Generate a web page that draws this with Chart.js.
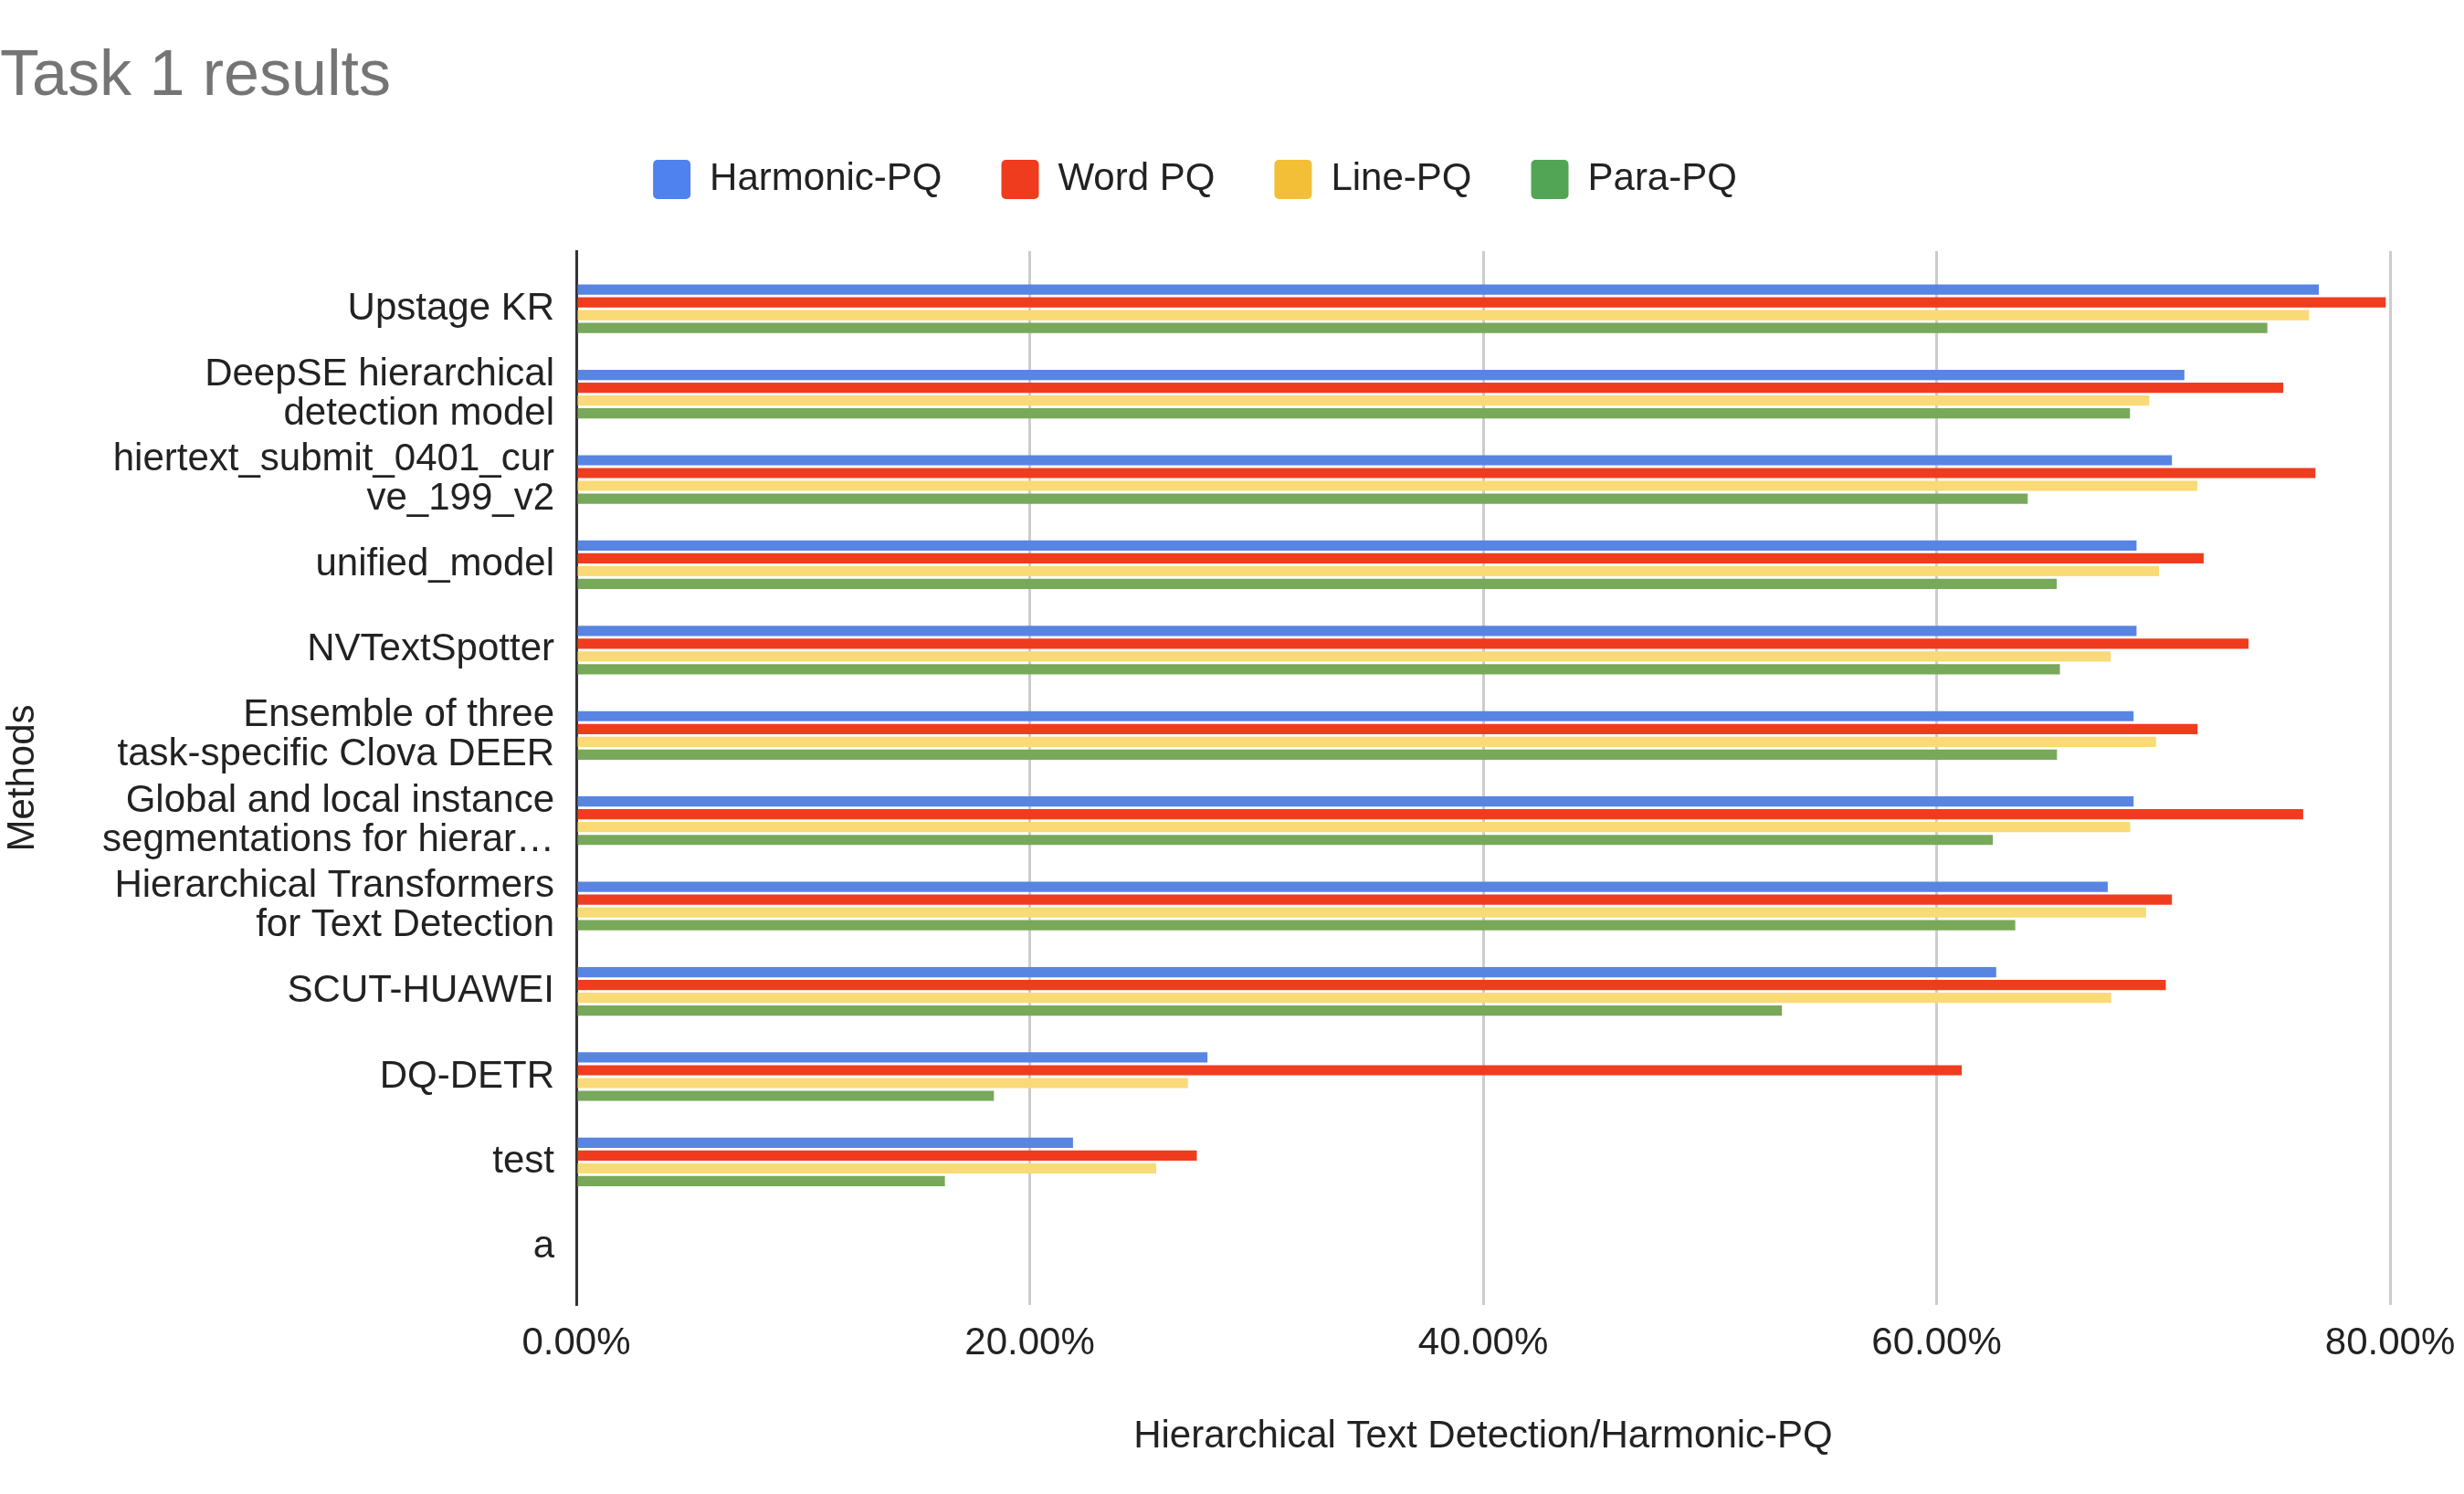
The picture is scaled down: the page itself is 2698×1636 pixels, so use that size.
<!DOCTYPE html>
<html>
<head>
<meta charset="utf-8">
<title>Task 1 results</title>
<script src="https://cdn.jsdelivr.net/npm/chart.js@4.4.1/dist/chart.umd.min.js"></script>
<style>
  html, body { margin: 0; padding: 0; background: #fff; }
  canvas { display: block; }
</style>
</head>
<body>
<canvas id="myChart" width="2698" height="1636" style="width:2698px;height:1636px"></canvas>
<script>
// methods, top to bottom (already wrapped the way the sheet shows them)
var methods = [
  ["Upstage KR"],
  ["DeepSE hierarchical", "detection model"],
  ["hiertext_submit_0401_cur", "ve_199_v2"],
  ["unified_model"],
  ["NVTextSpotter"],
  ["Ensemble of three", "task-specific Clova DEER"],
  ["Global and local instance", "segmentations for hierar\u2026"],
  ["Hierarchical Transformers", "for Text Detection"],
  ["SCUT-HUAWEI"],
  ["DQ-DETR"],
  ["test"],
  ["a"]
];

// scores in %
var harmonicPQ = [76.86, 70.93, 70.38, 68.82, 68.82, 68.69, 68.69, 67.55, 62.63, 27.84, 21.91, null];
var wordPQ     = [79.81, 75.29, 76.71, 71.78, 73.76, 71.51, 76.17, 70.38, 70.11, 61.11, 27.37, null];
var linePQ     = [76.43, 69.38, 71.50, 69.81, 67.68, 69.68, 68.54, 69.24, 67.70, 26.98, 25.58, null];
var paraPQ     = [74.59, 68.53, 64.02, 65.30, 65.44, 65.31, 62.48, 63.47, 53.18, 18.42, 16.26, null];

var xTicks = [0, 20, 40, 60, 80];

var seriesNames  = ["Harmonic-PQ", "Word PQ", "Line-PQ", "Para-PQ"];
var barColors    = ["#5884e2", "#f03c1e", "#fada76", "#78a859"];
var legendColors = ["#4f81ef", "#ef3b1e", "#f3bf36", "#53a556"];

var fontFamily = "'Liberation Sans', Arial, sans-serif";
var yPad = 0.676; // empty space above first / below last method, in rows

function points(values) {
  return values.map(function (v, i) { return { x: v, y: i }; });
}

function createChart() {
  var ctx = document.getElementById("myChart");
  var allSeries = [harmonicPQ, wordPQ, linePQ, paraPQ];

  var datasets = allSeries.map(function (vals, i) {
    return {
      label: seriesNames[i],
      data: points(vals),
      backgroundColor: barColors[i],
      borderWidth: 0,
      categoryPercentage: 0.6,
      barPercentage: 0.8
    };
  });

  // extra space between legend and plot
  var legendGap = {
    id: "legendGap",
    beforeInit: function (chart) {
      var fit = chart.legend.fit;
      chart.legend.fit = function () {
        fit.call(this);
        this.height += 47;
      };
    }
  };

  new Chart(ctx, {
    type: "bar",
    data: { datasets: datasets },
    plugins: [legendGap],
    options: {
      indexAxis: "y",
      responsive: false,
      devicePixelRatio: 1,
      animation: false,
      layout: { padding: { left: 0, right: 81, top: 0, bottom: 0 } },
      plugins: {
        tooltip: { enabled: false },
        title: {
          display: true,
          text: "Task 1 results",
          align: "start",
          color: "#757575",
          font: { family: fontFamily, size: 70, weight: "normal", lineHeight: 0.9 },
          padding: { top: 53, bottom: -6 }
        },
        legend: {
          display: true,
          position: "top",
          align: "center",
          labels: {
            color: "#222222",
            font: { family: fontFamily, size: 42 },
            boxWidth: 41,
            boxHeight: 43,
            padding: 65,
            useBorderRadius: true,
            borderRadius: 5,
            generateLabels: function (chart) {
              return seriesNames.map(function (name, i) {
                return {
                  text: name,
                  fillStyle: legendColors[i],
                  strokeStyle: legendColors[i],
                  lineWidth: 0,
                  fontColor: "#222222",
                  datasetIndex: i,
                  borderRadius: 5
                };
              });
            }
          }
        }
      },
      scales: {
        x: {
          type: "linear",
          position: "bottom",
          min: 0,
          max: 80,
          afterBuildTicks: function (scale) {
            scale.ticks = xTicks.map(function (v) { return { value: v }; });
          },
          afterFit: function (scale) { scale.height = 207; },
          ticks: {
            color: "#222222",
            font: { family: fontFamily, size: 42, lineHeight: 1.2 },
            padding: 9,
            callback: function (v) { return v.toFixed(2) + "%"; }
          },
          grid: {
            color: "#cccccc",
            lineWidth: 3,
            drawTicks: true,
            tickLength: 8,
            tickColor: "rgba(0,0,0,0)"
          },
          border: { display: false },
          title: {
            display: true,
            text: "Hierarchical Text Detection/Harmonic-PQ",
            color: "#222222",
            font: { family: fontFamily, size: 42, lineHeight: 1.2 },
            padding: { top: 0, bottom: 37 }
          }
        },
        y: {
          type: "linear",
          reverse: true,
          offset: false,
          bounds: "data",
          afterDataLimits: function (scale) {
            scale.min = -yPad;
            scale.max = methods.length - 1 + yPad;
          },
          afterBuildTicks: function (scale) {
            scale.min = -yPad;
            scale.max = methods.length - 1 + yPad;
            scale.ticks = methods.map(function (m, i) { return { value: i }; });
          },
          afterFit: function (scale) { scale.width = 631; },
          ticks: {
            autoSkip: false,
            color: "#222222",
            font: { family: fontFamily, size: 42, lineHeight: 1.03 },
            padding: 24,
            callback: function (v) { return methods[v]; }
          },
          grid: { display: false, drawTicks: false, offset: false },
          border: { display: true, color: "#333333", width: 3 },
          title: {
            display: true,
            text: "Methods",
            color: "#222222",
            font: { family: fontFamily, size: 42, lineHeight: 1.2 },
            padding: { top: 0, bottom: 0 }
          }
        }
      }
    }
  });
}

createChart();
</script>
</body>
</html>
